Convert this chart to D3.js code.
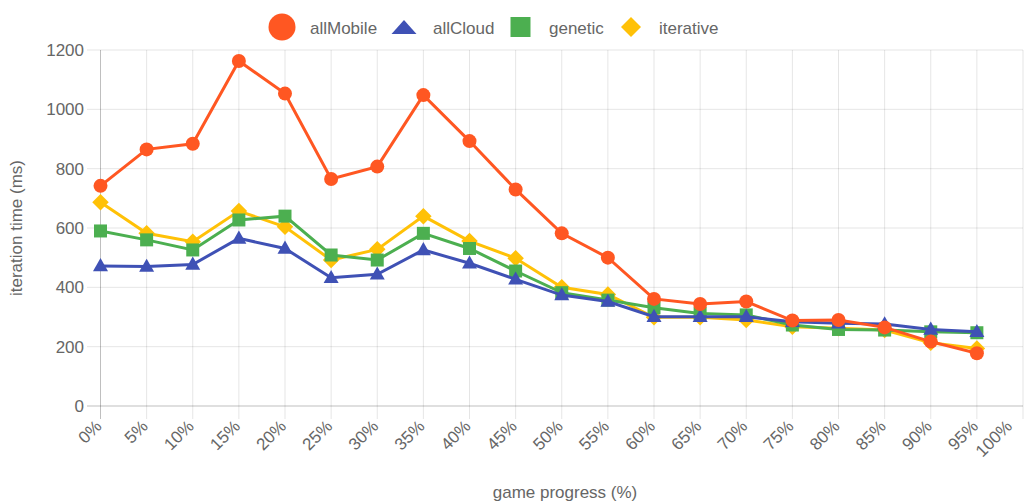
<!DOCTYPE html>
<html><head><meta charset="utf-8">
<script src="https://cdn.jsdelivr.net/npm/d3@7"></script>
<style>
html,body{margin:0;padding:0;background:#fff;}
svg text{font-family:"Liberation Sans",Arial,Helvetica,sans-serif;fill:#666;}
</style></head>
<body><svg id="c" width="1025" height="501"></svg>
<script>
const progress = [0,5,10,15,20,25,30,35,40,45,50,55,60,65,70,75,80,85,90,95];
const xTicks = [0,5,10,15,20,25,30,35,40,45,50,55,60,65,70,75,80,85,90,95,100];
const yTicks = [0,200,400,600,800,1000,1200];
const allMobile = [742,865,884,1163,1053,765,807,1048,893,730,582,500,361,344,352,288,290,265,217,178];
const allCloud  = [472,470,477,565,531,432,444,526,481,427,374,352,301,301,301,284,279,276,258,250];
const genetic   = [590,560,526,627,640,509,492,582,531,455,382,357,331,312,307,273,258,256,250,247];
const iterative = [687,582,554,657,604,492,528,640,556,498,400,376,299,299,290,267,262,256,213,194];
const seriesNames = ["allMobile","allCloud","genetic","iterative"];
const seriesColors = ["#FF5722","#3F51B5","#4CAF50","#FFC107"];
const seriesShapes = ["circle","triangle","square","diamond"];
const seriesData = [allMobile, allCloud, genetic, iterative];

const svg = d3.select("#c");
const x = d3.scaleLinear().domain([0,100]).range([100.5,1023]);
const y = d3.scaleLinear().domain([0,1200]).range([406,50]);

function shapePath(shape, s){
  if(shape==="circle") return d3.arc()({innerRadius:0,outerRadius:s,startAngle:0,endAngle:2*Math.PI});
  if(shape==="square") return `M${-s},${-s}H${s}V${s}H${-s}Z`;
  if(shape==="diamond") return `M0,${-s*1.1}L${s*1.1},0L0,${s*1.1}L${-s*1.1},0Z`;
  if(shape==="triangle"){ const h=s*1.75; return `M0,${-h*0.6}L${s},${h*0.4}L${-s},${h*0.4}Z`; }
}

const g = svg.append("g");
g.selectAll(".vg").data(xTicks).join("line")
  .attr("x1",d=>x(d)).attr("x2",d=>x(d)).attr("y1",50).attr("y2",419)
  .attr("stroke",d=>d===0?"rgba(0,0,0,0.25)":"rgba(0,0,0,0.1)").attr("stroke-width",1);
g.selectAll(".hg").data(yTicks).join("line")
  .attr("x1",87).attr("x2",1023).attr("y1",d=>y(d)).attr("y2",d=>y(d))
  .attr("stroke",d=>d===0?"rgba(0,0,0,0.25)":"rgba(0,0,0,0.1)").attr("stroke-width",1);

g.selectAll(".yl").data(yTicks).join("text")
  .attr("x",84).attr("y",d=>y(d)).attr("dy","0.35em")
  .attr("text-anchor","end").attr("font-size",17).text(d=>d);
g.selectAll(".xl").data(xTicks).join("text")
  .attr("transform",d=>`translate(${x(d)-(d===100?14:2)},${423}) rotate(-45)`)
  .attr("dy","0.35em").attr("text-anchor","end").attr("font-size",17).text(d=>d+"%");

svg.append("text").attr("transform","translate(22,228) rotate(-90)")
  .attr("text-anchor","middle").attr("font-size",17).text("iteration time (ms)");
svg.append("text").attr("x",565).attr("y",498)
  .attr("text-anchor","middle").attr("font-size",17).text("game progress (%)");

const line = d3.line().x((d,i)=>x(progress[i])).y(d=>y(d));
for(let k=seriesData.length-1;k>=0;k--){
  const sg = svg.append("g");
  sg.append("path").datum(seriesData[k]).attr("d",line)
    .attr("fill","none").attr("stroke",seriesColors[k]).attr("stroke-width",3);
  const sz = {circle:7, triangle:7.5, square:6.5, diamond:7.5}[seriesShapes[k]];
  sg.selectAll("path.m").data(seriesData[k]).join("path").attr("class","m")
    .attr("transform",(d,i)=>`translate(${x(progress[i])},${y(d)})`)
    .attr("d",shapePath(seriesShapes[k],sz)).attr("fill",seriesColors[k]);
}

const legX = [282,404,520.5,631];
const legTX = [310,433,549,659];
const legSize = [13.5,12.5,10,9.1];
const lg = svg.append("g");
seriesNames.forEach((n,k)=>{
  let d;
  if(seriesShapes[k]==="triangle") d = `M0,-7L12.5,7L-12.5,7Z`;
  else d = shapePath(seriesShapes[k],legSize[k]);
  lg.append("path").attr("transform",`translate(${legX[k]},27)`).attr("d",d).attr("fill",seriesColors[k]);
  lg.append("text").attr("x",legTX[k]).attr("y",34).attr("font-size",17).text(n);
});
</script></body></html>
